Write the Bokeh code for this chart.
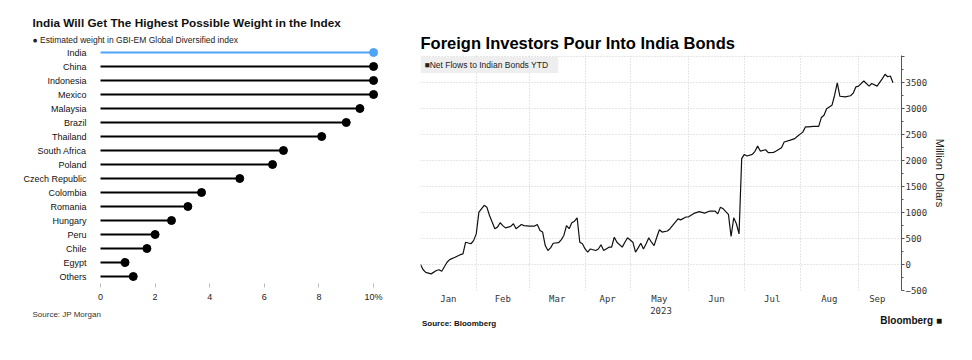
from bokeh.plotting import figure
from bokeh.models import FactorRange, Range1d, FixedTicker, Label, Title, LinearAxis
from bokeh.layouts import row, column
from bokeh.embed import file_html
from bokeh.resources import INLINE

# ---------------- Left chart data ----------------
countries = ["India", "China", "Indonesia", "Mexico", "Malaysia", "Brazil", "Thailand",
             "South Africa", "Poland", "Czech Republic", "Colombia", "Romania", "Hungary",
             "Peru", "Chile", "Egypt", "Others"]
weights = [10.0, 10.0, 10.0, 10.0, 9.5, 9.0, 8.1, 6.7, 6.3, 5.1, 3.7, 3.2, 2.6, 2.0, 1.7, 0.9, 1.2]
weight_ticks = [0, 2, 4, 6, 8, 10]
weight_tick_labels = ["0", "2", "4", "6", "8", "10%"]

# ---------------- Right chart data ----------------
# x = trading-day index of 2023 (0 = first session of January), y = million USD YTD
trading_day = [0, 1, 2, 4, 6, 7, 8, 10, 11, 13, 15, 16, 17, 19, 20, 21, 22, 24, 25, 26,
               28, 29, 30, 31, 32, 34, 35, 36, 38, 39, 41, 43, 44, 45, 46, 47, 48, 49, 50, 52,
               53, 54, 55, 56, 57, 58, 59, 60, 61, 62, 63, 64, 66, 67, 68, 69, 71, 72, 73, 74,
               76, 77, 78, 80, 81, 82, 83, 84, 85, 86, 87, 88, 89, 90, 91, 93, 94, 96, 97, 98,
               100, 101, 103, 105, 107, 109, 111, 112, 113, 114, 115, 116, 117, 118, 119, 120, 121, 122, 123, 125,
               126, 127, 128, 130, 131, 133, 134, 136, 137, 139, 141, 142, 144, 145, 146, 148, 150, 151, 152, 153,
               155, 156, 157, 158, 160, 162, 163, 164, 165, 167, 169, 170, 172, 174, 175, 176, 177, 178]
net_flows = [0, -100, -150, -180, -115, -100, -130, 45, 95, 140, 190, 205, 430, 400, 460, 590, 1010, 1140, 1105, 945,
             690, 720, 805, 750, 705, 735, 785, 690, 770, 750, 740, 740, 770, 655, 625, 365, 270, 320, 410, 420,
             475, 560, 750, 690, 805, 835, 900, 430, 400, 300, 240, 300, 270, 300, 380, 270, 335, 335, 525, 430,
             335, 430, 515, 430, 240, 320, 410, 300, 400, 515, 430, 365, 525, 670, 625, 645, 690, 815, 880, 860,
             915, 918, 985, 1020, 990, 1030, 1030, 975, 1105, 1075, 1020, 965, 540, 900, 785, 590, 2040, 2120, 2090, 2120,
             2180, 2280, 2185, 2210, 2155, 2160, 2185, 2250, 2360, 2390, 2425, 2470, 2550, 2650, 2650, 2660, 2660, 2830, 2875, 3000,
             3065, 3260, 3500, 3240, 3230, 3250, 3300, 3420, 3435, 3535, 3435, 3485, 3435, 3580, 3665, 3615, 3630, 3500]
month_names = ["Jan", "Feb", "Mar", "Apr", "May", "Jun", "Jul", "Aug", "Sep"]
month_starts = [0, 21, 41, 62, 79, 101, 122, 143, 165]
axis_end_session = 181.2
flow_ticks = [-500, 0, 500, 1000, 1500, 2000, 2500, 3000, 3500, 4000]
flow_minor_ticks = [-250, 250, 750, 1250, 1750, 2250, 2750, 3250, 3750]

SANS = "Liberation Sans"
MONO = "DejaVu Sans Mono"

# ================= Left figure =================
p1 = figure(width=400, height=344, output_backend="svg", toolbar_location=None, title=None,
            y_range=FactorRange(factors=list(reversed(countries))),
            x_range=Range1d(-0.1465, 10.62),
            min_border_left=96, min_border_right=10, min_border_top=45, min_border_bottom=61)
p1.outline_line_color = None
p1.grid.visible = False
p1.background_fill_color = "white"
p1.border_fill_color = "white"

colors = ["#4da3f5" if c == "India" else "#000000" for c in countries]
p1.segment(x0=[0] * len(countries), y0=countries, x1=weights, y1=countries,
           line_color=colors, line_width=2)
p1.scatter(x=weights, y=countries, size=8, fill_color=colors, line_color=colors)

p1.yaxis.axis_line_color = None
p1.yaxis.major_tick_line_color = None
p1.yaxis.minor_tick_line_color = None
p1.yaxis.major_label_text_font = SANS
p1.yaxis.major_label_text_font_size = "9px"
p1.yaxis.major_label_text_color = "#111111"
p1.yaxis.major_label_standoff = 4

p1.xaxis.ticker = FixedTicker(ticks=weight_ticks)
p1.xaxis.major_label_overrides = {t: l for t, l in zip(weight_ticks, weight_tick_labels)}
p1.xaxis.axis_line_color = None
p1.xaxis.major_tick_line_color = "#bbbbbb"
p1.xaxis.major_tick_in = 0
p1.xaxis.major_tick_out = 4
p1.xaxis.minor_tick_line_color = None
p1.xaxis.major_label_text_font = SANS
p1.xaxis.major_label_text_font_size = "9px"
p1.xaxis.major_label_text_color = "#222222"
p1.xaxis.major_label_standoff = 4

p1.add_layout(Title(text="\u25CF Estimated weight in GBI-EM Global Diversified index",
                    align="left", offset=-64, standoff=2,
                    text_font=SANS, text_font_size="8.5px", text_font_style="normal",
                    text_color="#222222"), "above")
p1.add_layout(Title(text="India Will Get The Highest Possible Weight in the Index",
                    align="left", offset=-64, standoff=4,
                    text_font=SANS, text_font_size="11.8px", text_font_style="bold",
                    text_color="#111111"), "above")
p1.add_layout(Title(text="Source: JP Morgan", align="left", offset=-64, standoff=6,
                    text_font=SANS, text_font_size="8px", text_font_style="normal",
                    text_color="#333333"), "below")

# ================= Right figure =================
p2 = figure(width=560, height=344, output_backend="svg", toolbar_location=None, title=None,
            x_range=Range1d(0, axis_end_session), y_range=Range1d(-500, 4025),
            y_axis_location="right",
            min_border_left=20, min_border_right=59, min_border_top=55, min_border_bottom=54)
p2.outline_line_color = None
p2.background_fill_color = "white"
p2.border_fill_color = "white"

p2.line(trading_day, net_flows, line_color="#111111", line_width=1.2)

month_mids = [(a + b) / 2 for a, b in zip(month_starts, month_starts[1:] + [axis_end_session - 2])]
p2.xaxis.ticker = FixedTicker(ticks=month_mids)
p2.xaxis.major_label_overrides = {m: n for m, n in zip(month_mids, month_names)}
p2.xaxis.axis_line_color = None
p2.xaxis.major_tick_line_color = None
p2.xaxis.minor_tick_line_color = None
p2.xaxis.major_tick_out = 0
p2.xaxis.minor_tick_out = 0
p2.xaxis.major_label_text_font = MONO
p2.xaxis.major_label_text_font_size = "9px"
p2.xaxis.major_label_text_color = "#333333"
p2.xaxis.major_label_standoff = 3
p2.xaxis.axis_label = "2023"
p2.xaxis.axis_label_text_font = MONO
p2.xaxis.axis_label_text_font_size = "9px"
p2.xaxis.axis_label_text_font_style = "normal"
p2.xaxis.axis_label_text_color = "#333333"
p2.xaxis.axis_label_standoff = 0

p2.xgrid.ticker = FixedTicker(ticks=month_starts[1:])
p2.xgrid.grid_line_color = "#cccccc"
p2.xgrid.grid_line_dash = "1 2"
p2.xgrid.grid_line_width = 1

p2.yaxis.ticker = FixedTicker(ticks=flow_ticks, minor_ticks=flow_minor_ticks)
p2.yaxis.major_label_overrides = {4000: ""}
p2.yaxis.axis_line_color = "#555555"
p2.yaxis.major_tick_line_color = "#555555"
p2.yaxis.minor_tick_line_color = "#555555"
p2.yaxis.major_tick_in = 0
p2.yaxis.major_tick_out = 3
p2.yaxis.minor_tick_in = 0
p2.yaxis.minor_tick_out = 2
p2.yaxis.major_label_text_font = MONO
p2.yaxis.major_label_text_font_size = "9px"
p2.yaxis.major_label_text_color = "#333333"
p2.yaxis.major_label_standoff = 1
p2.yaxis.axis_label = "Million Dollars"
p2.yaxis.axis_label_text_font = SANS
p2.yaxis.axis_label_text_font_size = "11px"
p2.yaxis.axis_label_text_font_style = "normal"
p2.yaxis.axis_label_text_color = "#222222"
p2.yaxis.axis_label_standoff = 4
p2.ygrid.grid_line_color = "#cccccc"
p2.ygrid.grid_line_dash = "1 2"
p2.ygrid.grid_line_width = 1

p2.add_layout(Label(x=0, y=225.5, x_units="screen", y_units="screen",
                    text="\u25A0Net Flows to Indian Bonds YTD",
                    text_font=SANS, text_font_size="8.5px",
                    text_color="#222222", text_baseline="middle", text_align="left",
                    background_fill_color="#eeeeee",
                    padding=dict(left=4, right=10, top=3, bottom=3)))

p2.add_layout(Title(text="Foreign Investors Pour Into India Bonds", align="left", offset=0, standoff=7,
                    text_font=SANS, text_font_size="16.5px", text_font_style="bold",
                    text_color="#000000"), "above")

# footer line: source (left) and logo (right), drawn as label-only axes on a 0..1 footer scale
p2.extra_x_ranges = {"footer": Range1d(0, 1)}
footer_src_pos = 0.0825
footer_logo_pos = 0.9998


def footer_axis(pos, text, size, standoff):
    ax = LinearAxis(x_range_name="footer", ticker=FixedTicker(ticks=[pos]),
                    major_label_overrides={pos: text})
    ax.axis_line_color = None
    ax.major_tick_line_color = None
    ax.minor_tick_line_color = None
    ax.major_tick_out = 0
    ax.minor_tick_out = 0
    ax.major_tick_in = 0
    ax.minor_tick_in = 0
    ax.major_label_text_font = SANS
    ax.major_label_text_font_style = "bold"
    ax.major_label_text_font_size = size
    ax.major_label_text_color = "#111111"
    ax.major_label_standoff = standoff
    return ax


p2.add_layout(footer_axis(footer_src_pos, "Source:  Bloomberg", "8px", 2), "below")
p2.add_layout(footer_axis(footer_logo_pos, "\u00A0" * 7 + "Bloomberg \u25A0", "10px", -16), "below")

layout = row(column(p1), column(p2))
open("out.html", "w").write(file_html(layout, INLINE))
